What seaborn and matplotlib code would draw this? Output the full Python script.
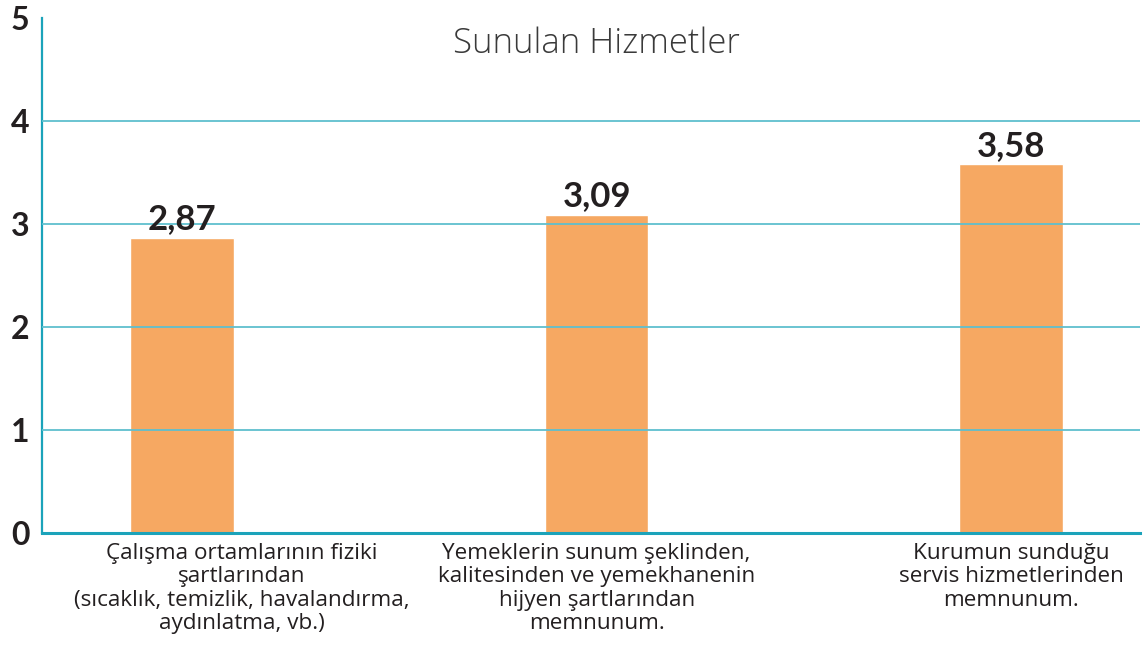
import numpy as np
import pandas as pd
import matplotlib
matplotlib.use('Agg')
import matplotlib.pyplot as plt
import matplotlib.transforms as mtransforms
import seaborn as sns

# data
categories = [
    'Çalışma ortamlarının fiziki\nşartlarından\n(sıcaklık, temizlik, havalandırma,\naydınlatma, vb.)',
    'Yemeklerin sunum şeklinden,\nkalitesinden ve yemekhanenin\nhijyen şartlarından\nmemnunum.',
    'Kurumun sunduğu\nservis hizmetlerinden\nmemnunum.',
]
scores = [2.87, 3.09, 3.58]
score_labels = ['2,87', '3,09', '3,58']
yticks = [0, 1, 2, 3, 4, 5]
title = 'Sunulan Hizmetler'

df = pd.DataFrame({'kategori': categories, 'puan': scores})

sns.set_style('white')
plt.rcParams['font.family'] = ['Open Sans', 'DejaVu Sans']

fig = plt.figure(figsize=(11.47, 6.5), dpi=100)
ax = fig.add_axes([0.0366, 0.18, 0.9574, 0.792])

sns.barplot(data=df, x='kategori', y='puan', color='#F6A862', saturation=1,
            width=0.25, ax=ax, zorder=1)

ax.set_xlim(-0.338, 2.311)
ax.set_ylim(0, 5)
ax.set_yticks(yticks)
ax.set_yticklabels([str(t) for t in yticks], fontsize=23, fontweight='bold',
                   color='#231F20', family=['Lato', 'DejaVu Sans'])
ax.tick_params(axis='y', length=0, pad=9)
ax.tick_params(axis='x', length=0, pad=7, labelsize=16.2, colors='#231F20')
for lab in ax.get_xticklabels():
    lab.set_linespacing(1.15)

# first label sits right of its bar in the reference
first = ax.get_xticklabels()[0]
first.set_transform(first.get_transform() +
                    mtransforms.ScaledTranslation(0.6, 0, fig.dpi_scale_trans))

# gridlines drawn over the bars
for t in yticks[1:-1]:
    ax.axhline(t, color='#5FBFCE', lw=1.3, zorder=3)

ax.bar_label(ax.containers[0], labels=score_labels, padding=2, fontsize=25,
             fontweight='bold', color='#231F20', family=['Lato', 'DejaVu Sans'])

ax.text(0.505, 0.95, title, transform=ax.transAxes, ha='center', va='center',
        fontsize=25, fontweight=300, color='#3a3a3a',
        family=['Open Sans', 'DejaVu Sans'])

ax.set_xlabel('')
ax.set_ylabel('')
for side in ['top', 'right']:
    ax.spines[side].set_visible(False)
ax.spines['left'].set_color('#1BA3BA')
ax.spines['left'].set_linewidth(1.6)
ax.spines['bottom'].set_color('#1BA3BA')
ax.spines['bottom'].set_linewidth(2.2)

fig.savefig('out.png', dpi=100)
